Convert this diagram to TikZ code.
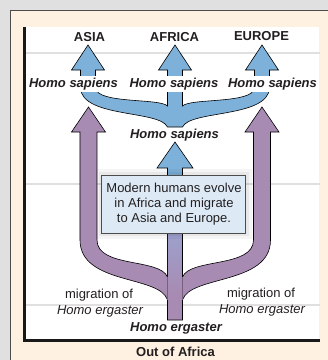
\documentclass[tikz,border=0pt]{standalone}
\usepackage{fontspec}
\setmainfont{Liberation Sans}
\usepackage{tikz}
\usetikzlibrary{calc}
\definecolor{cream}{HTML}{FEF1E2}
\definecolor{skyarrow}{HTML}{7DB1DA}
\definecolor{mauve}{HTML}{A88BB3}
\definecolor{violetstem}{HTML}{9CA1CD}
\definecolor{boxblue}{HTML}{DDEAF6}
\definecolor{ink}{HTML}{231F20}

\begin{document}
\begin{tikzpicture}[x=1pt,y=-1pt,
		txt/.style={text=ink,font=\fontsize{13}{15}\selectfont,inner sep=1pt,anchor=base},
		bigtxt/.style={txt,font=\fontsize{13}{15}\selectfont\bfseries},
		sapiens/.style={txt,font=\fontsize{13}{15}\selectfont\bfseries\itshape},
		trunk/.style={fill=skyarrow,draw=black,line width=0.6},
		branch/.style={fill=mauve,draw=black,line width=0.6},
		rule/.style={black!12,line width=1.5}]
			\useasboundingbox (0,0) rectangle (328,360);
			\fill[black!12] (0,0) rectangle (328,360);
			\filldraw[fill=cream,draw=black!70,line width=1] (10.5,10.5) rectangle (334,366);
			\fill[white] (23,27) rectangle (319,341);
			\fill[black!90] (23,27) rectangle (26,342);
			\fill[black!90] (23,339) rectangle (320,342);
			\draw[rule] (26,53) -- (320,53);
			\draw[rule] (26,184) -- (320,184);
			\draw[rule] (26,305) -- (320,305);
			\filldraw[branch] (80,132) -- (71.5,132) -- (88.5,107) -- (105.5,132) -- (97,132) -- (97,240) .. controls (97,268) and (160,258) .. (167.5,277) -- (167.5,233) -- (182.5,233) -- (182.5,277) .. controls (190,258) and (253.5,268) .. (253.5,240) -- (253.5,132) -- (245,132) -- (262,107) -- (279,132) -- (270.5,132) -- (270.5,240) .. controls (270.5,285) and (190,275) .. (182.5,300) -- (182.5,320) -- (167.5,320) -- (167.5,300) .. controls (160,275) and (80,285) .. (80,240) -- cycle;
			\shade[top color=violetstem,bottom color=mauve] (168,233) rectangle (182,292);
			\draw[mauve!70!black,line width=0.3] (167.5,277) -- (167.5,300);
			\draw[mauve!70!black,line width=0.3] (182.5,277) -- (182.5,300);
			\filldraw[trunk] (80.5,70) -- (71.5,70) -- (88,45) -- (104.5,70) -- (95.5,70) -- (95.5,88) .. controls (97,104) and (160,98) .. (167.5,106) -- (167.5,70) -- (158.5,70) -- (175,45) -- (191.5,70) -- (182.5,70) -- (182.5,106) .. controls (190,98) and (253,104) .. (254.5,88) -- (254.5,70) -- (245.5,70) -- (262,45) -- (278.5,70) -- (269.5,70) -- (269.5,88) .. controls (268,118) and (190,110) .. (182.5,127) -- (167.5,127) .. controls (160,110) and (82,118) .. (80.5,88) -- cycle;
			\filldraw[trunk] (167.5,180) -- (167.5,168) -- (157,168) -- (175,142) -- (193,168) -- (182.5,168) -- (182.5,180) -- cycle;
			\fill[black,opacity=0.04] (96,169) rectangle (252,239);
			\fill[black,opacity=0.05] (99,172) rectangle (249,236);
			\node[draw=black!70,line width=1,fill=boxblue,minimum width=144,minimum height=58,align=center,text=ink,font=\fontsize{13}{15}\selectfont,inner sep=0pt] (box) at (174,204) {Modern humans evolve\\in Africa and migrate\\to Asia and Europe.};
			\node[bigtxt] (asia) at (89.5,41.5) {ASIA};
			\node[bigtxt] (africa) at (174.5,41.5) {AFRICA};
			\node[bigtxt] (europe) at (261.5,40.5) {EUROPE};
			\node[sapiens,fill=white,inner sep=2pt] (sapL) at (73.5,87.5) {Homo sapiens};
			\node[sapiens,fill=white,inner sep=2pt] (sapM) at (174,87.5) {Homo sapiens};
			\node[sapiens,fill=white,inner sep=2pt] (sapR) at (272.5,87.5) {Homo sapiens};
			\node[sapiens] (sapMid) at (174.5,138.3) {Homo sapiens};
			\node[txt] (migL) at (99,298.3) {migration of};
			\node[txt,font=\fontsize{13}{15}\selectfont\itshape] (ergL) at (100,314) {Homo ergaster};
			\node[txt] (migR) at (261,297.3) {migration of};
			\node[txt,font=\fontsize{13}{15}\selectfont\itshape] (ergR) at (262,313.3) {Homo ergaster};
			\node[sapiens] (ergaster) at (176,331.7) {Homo ergaster};
			\node[bigtxt] (title) at (175.5,356.5) {Out of Africa};
		\end{tikzpicture}
\end{document}
